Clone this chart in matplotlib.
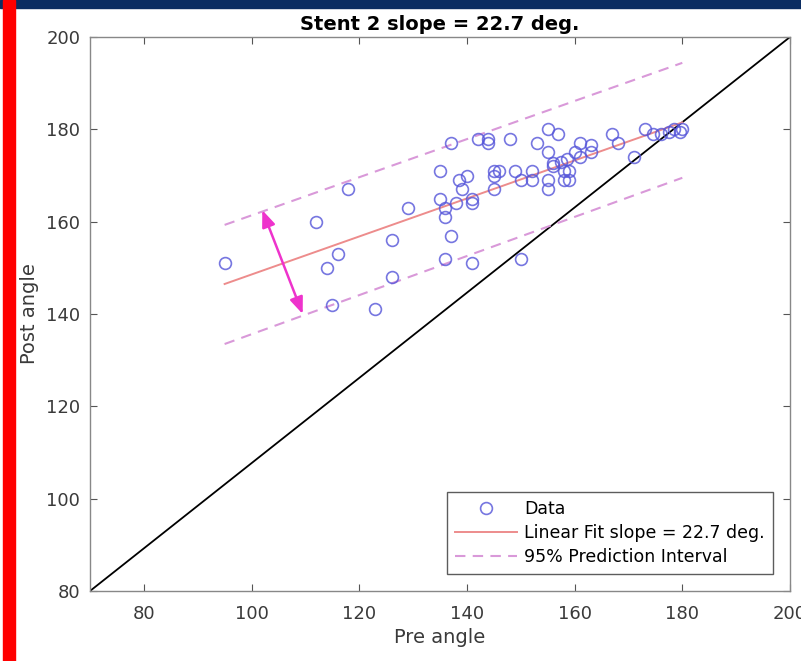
import matplotlib
matplotlib.use("Agg")
import matplotlib.pyplot as plt
from matplotlib.patches import Rectangle, FancyArrowPatch

plt.rcParams['font.family'] = ['DejaVu Sans']

# ---- data ----
pre = [95, 112, 118, 116, 114, 115, 123, 126, 126, 129,
       137, 135, 142, 144, 144, 148, 153, 155, 157, 155,
       135, 136, 136, 137, 136, 141, 150, 138.5, 140, 139,
       138, 141, 141, 145, 145, 145, 146, 149, 150, 152,
       152, 155, 155, 156, 161, 163, 163, 161, 160, 158.5,
       157.5, 156, 158, 159, 158, 159, 167, 168, 171, 173,
       174.5, 176, 177.5, 178.5, 179.5, 180]
post = [151, 160, 167, 153, 150, 142, 141, 156, 148, 163,
        177, 171, 178, 178, 177, 178, 177, 180, 179, 175,
        165, 163, 161, 157, 152, 151, 152, 169, 170, 167,
        164, 165, 164, 171, 170, 167, 171, 171, 169, 171,
        169, 169, 167, 172, 177, 176.7, 175, 174, 175, 173.5,
        173, 172.8, 171, 171, 169, 169, 179, 177, 174, 180,
        179, 179, 179.5, 180, 179.5, 180]

fit_x = [95, 180]
fit_y = [146.5, 181.5]
pi_upper = [159.3, 194.4]
pi_lower = [133.5, 169.5]

diag_x = [70, 200]
diag_y = [80, 200]

arrow_start = (102, 162.5)
arrow_end = (109.5, 140)

xlim = (70, 200)
ylim = (80, 200)
xticks = [80, 100, 120, 140, 160, 180, 200]
yticks = [80, 100, 120, 140, 160, 180, 200]

title = "Stent 2 slope = 22.7 deg."

# ---- figure ----
fig = plt.figure(figsize=(8.01, 6.61), dpi=100)
fig.patches.append(Rectangle((0, 1 - 8 / 661), 1, 8 / 661, transform=fig.transFigure,
                             color='#0b2d62', zorder=0))
fig.patches.append(Rectangle((3 / 801, 0), 12 / 801, 1, transform=fig.transFigure,
                             color='#ff0000', zorder=1))

ax = fig.add_axes([90 / 801, 1 - 591 / 661, (790 - 90) / 801, (591 - 37) / 661])

ax.plot(diag_x, diag_y, color='black', lw=1.3, zorder=2)
ax.plot(pre, post, 'o', mfc='none', mec=(0.33, 0.33, 0.85, 0.8), ms=8.5, mew=1.2,
        linestyle='none', label='Data', zorder=3)
ax.plot(fit_x, fit_y, color=(0.93, 0.55, 0.55), lw=1.4, label='Linear Fit slope = 22.7 deg.', zorder=2)
ax.plot(fit_x, pi_upper, '--', color=(0.85, 0.6, 0.85), lw=1.5, dashes=(5, 3.5),
        label='95% Prediction Interval', zorder=2)
ax.plot(fit_x, pi_lower, '--', color=(0.85, 0.6, 0.85), lw=1.5, dashes=(5, 3.5), zorder=2)

arr = FancyArrowPatch(arrow_start, arrow_end, arrowstyle='<|-|>,head_length=1.0,head_width=0.4',
                      mutation_scale=10, color='#ee33cc', lw=1.8, zorder=4, shrinkA=0, shrinkB=0)
ax.add_patch(arr)

ax.set_xlim(*xlim)
ax.set_ylim(*ylim)
ax.set_xticks(xticks)
ax.set_yticks(yticks)
ax.tick_params(direction='in', top=True, right=True, length=5, width=0.8,
               colors='#555555', labelcolor='#3a3a3a', labelsize=13)
ax.tick_params(axis='x', pad=10)
ax.tick_params(axis='y', pad=7)
for s in ax.spines.values():
    s.set_color('#888888')
    s.set_linewidth(1.0)

ax.set_title(title, fontsize=14, fontweight='bold', pad=5)
ax.set_xlabel('Pre angle', fontsize=14, color='#3a3a3a', labelpad=4)
ax.set_ylabel('Post angle', fontsize=14, color='#3a3a3a', labelpad=5)

leg = ax.legend(loc='lower right', fontsize=12.5, frameon=True, fancybox=False,
                edgecolor='#333333', borderaxespad=1.0, handlelength=3.6,
                handletextpad=0.4, labelspacing=0.35, borderpad=0.45)
leg.get_frame().set_linewidth(1.0)

fig.savefig('out.png', dpi=100)
